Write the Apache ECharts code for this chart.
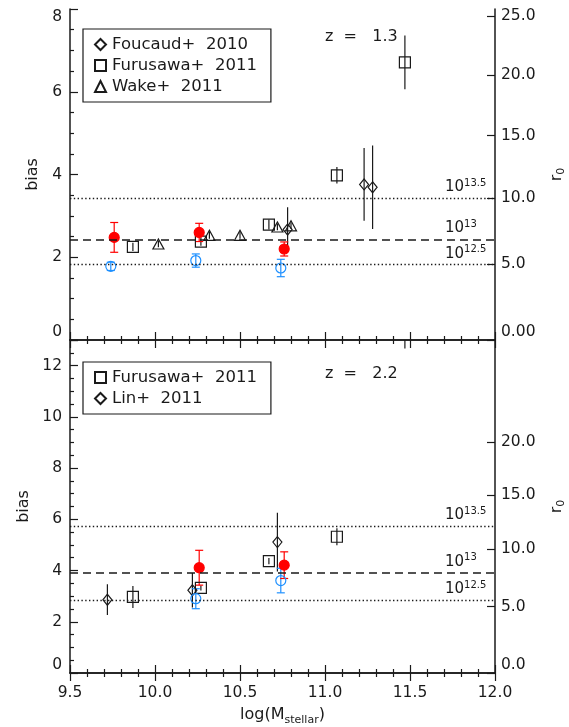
<!DOCTYPE html>
<html><head><meta charset="utf-8">
<script src="https://cdn.jsdelivr.net/npm/echarts@6/dist/echarts.min.js"></script>
<style>html,body{margin:0;padding:0;background:#fff}#c{width:569px;height:727px}</style>
</head><body><div id="c"></div>
<script>
// ---------------- data ----------------
const xMin = 9.5, xMax = 12.0;
const topR0Ticks = [0, 5, 10, 15, 20, 25];
const topR0Labels = ['0.00', '5.0', '10.0', '15.0', '20.0', '25.0'];
const botR0Ticks = [0, 5, 10, 15, 20];
const botR0Labels = ['0.0', '5.0', '10.0', '15.0', '20.0'];
const panelTitles = ['z  =   1.3', 'z  =   2.2'];

// bias-r0 relation b = C * r0^0.9 for each panel
const topR0Coef = 0.432;
const botR0Coef = 0.608;

// reference halo-mass lines (bias) and their exponents
const topHaloBias = [3.43, 2.43, 1.82];
const botHaloBias = [5.74, 3.91, 2.84];
const haloExp = ['13.5', '13', '12.5'];

// z = 1.3 panel
const topRedX = [9.76, 10.26, 10.76];
const topRedBias = [2.48, 2.60, 2.20];
const topRedErr = [0.36, 0.22, 0.17];
const topBlueX = [9.74, 10.24, 10.74];
const topBlueBias = [1.78, 1.92, 1.74];
const topBlueErr = [0.10, 0.16, 0.21];
const topFuruX = [9.87, 10.27, 10.67, 11.07, 11.47];
const topFuruBias = [2.25, 2.38, 2.79, 3.98, 6.71];
const topFuruErr = [0.10, 0.10, 0.12, 0.20, 0.65];
const topWakeX = [10.02, 10.32, 10.50, 10.72, 10.80];
const topWakeBias = [2.32, 2.53, 2.53, 2.73, 2.76];
const topWakeErr = [0.08, 0.08, 0.08, 0.08, 0.08];
const topFoucX = [10.78, 11.23, 11.28];
const topFoucBias = [2.67, 3.76, 3.69];
const topFoucErr = [0.54, 0.88, 1.01];

// z = 2.2 panel
const botRedX = [10.26, 10.76];
const botRedBias = [4.11, 4.21];
const botRedErr = [0.68, 0.52];
const botBlueX = [10.24, 10.74];
const botBlueBias = [2.90, 3.61];
const botBlueErr = [0.39, 0.48];
const botFuruX = [9.87, 10.27, 10.67, 11.07, 11.47];
const botFuruBias = [2.97, 3.32, 4.37, 5.32, 15.0];
const botFuruErr = [0.43, 0.10, 0.12, 0.33, 2.33];
const botLinX = [9.72, 10.22, 10.72];
const botLinBias = [2.86, 3.23, 5.11];
const botLinErr = [0.60, 0.67, 1.15];

const nameFou = 'Foucaud+ 2010', nameFur = 'Furusawa+ 2011', nameWake = 'Wake+ 2011', nameLin = 'Lin+ 2011';

// ---------------- helpers ----------------
const FONT = 'DejaVu Sans';
const INK = '#1a1a1a';
const RED = '#ff0000', BLUE = '#1e90ff';

function r0ToBias(r0, c) { return c * Math.pow(r0, 0.9); }

function errSeries(xs, ys, es, color, cap, g) {
  return {
    type: 'custom', xAxisIndex: g * 2, yAxisIndex: g * 2, clip: true, silent: true, z: 2,
    data: xs.map((x, i) => [x, ys[i] - es[i], ys[i] + es[i]]),
    renderItem(params, api) {
      const lo = api.coord([api.value(0), api.value(1)]);
      const hi = api.coord([api.value(0), api.value(2)]);
      const st = { stroke: color, lineWidth: 1.2 };
      const ch = [{ type: 'line', shape: { x1: lo[0], y1: lo[1], x2: hi[0], y2: hi[1] }, style: st }];
      if (cap) {
        ch.push({ type: 'line', shape: { x1: lo[0] - 4, y1: lo[1], x2: lo[0] + 4, y2: lo[1] }, style: st });
        ch.push({ type: 'line', shape: { x1: hi[0] - 4, y1: hi[1], x2: hi[0] + 4, y2: hi[1] }, style: st });
      }
      return { type: 'group', children: ch };
    }
  };
}
function markSeries(name, xs, ys, symbol, size, fill, stroke, g) {
  return {
    type: 'scatter', name, xAxisIndex: g * 2, yAxisIndex: g * 2, clip: true, z: 3,
    symbol, symbolSize: size,
    data: xs.map((x, i) => [x, ys[i]]),
    itemStyle: { color: fill, borderColor: stroke, borderWidth: 1.2, opacity: 1 },
    emphasis: { disabled: true }, silent: true
  };
}
function refLines(vals, g) {
  const styles = ['dotted', 'dashed', 'dotted'];
  return {
    type: 'scatter', data: [], xAxisIndex: g * 2, yAxisIndex: g * 2, silent: true, z: 1,
    markLine: {
      silent: true, symbol: ['none', 'none'], animation: false,
      data: vals.map((v, i) => ({
        yAxis: v,
        lineStyle: styles[i] === 'dashed'
          ? { type: [8, 5], width: 1.6, color: INK }
          : { type: [1.4, 2.4], width: 1.4, color: INK },
        label: {
          show: true, position: 'insideEndTop', distance: [50, 2], align: 'left',
          formatter: '{b|10}{s|' + haloExp[i] + '}',
          rich: {
            b: { fontFamily: FONT, fontSize: 15, color: INK, lineHeight: 18 },
            s: { fontFamily: FONT, fontSize: 10, color: INK, lineHeight: 18, verticalAlign: 'top' }
          }
        }
      }))
    }
  };
}

const OPEN = 'rgba(0,0,0,0)';
const tickLbl = { fontFamily: FONT, fontSize: 15.5, color: INK };
const axLine = { show: true, lineStyle: { color: INK, width: 1.5 } };

function xAxes(g, showLabels) {
  const base = {
    type: 'value', gridIndex: g, min: xMin, max: xMax, interval: 0.5,
    axisLine: axLine, splitLine: { show: false },
    axisTick: { inside: true, length: 8, lineStyle: { color: INK, width: 1.2 } },
    minorTick: { show: true, splitNumber: 5, length: 4, lineStyle: { color: INK, width: 1.2 } }
  };
  return [
    Object.assign({}, base, {
      position: 'bottom',
      axisLabel: Object.assign({ show: showLabels, margin: 12, formatter: v => v.toFixed(1) }, tickLbl),
      name: showLabels ? '{a|log(M}{s|stellar}{a|)}' : '', nameLocation: 'middle', nameGap: 31,
      nameTextStyle: { rich: {
        a: { fontFamily: FONT, fontSize: 16, color: INK, lineHeight: 22 },
        s: { fontFamily: FONT, fontSize: 11, color: INK, lineHeight: 22, verticalAlign: 'bottom' } } }
    }),
    Object.assign({}, base, { position: 'top', axisLabel: { show: false } })
  ];
}
function yAxes(g, max, r0Ticks, r0Labels, coef) {
  const custom = r0Ticks.map(r => r0ToBias(r, coef));
  return [
    {
      type: 'value', gridIndex: g, position: 'left', min: 0, max, interval: 2,
      axisLine: axLine, splitLine: { show: false },
      axisTick: { inside: true, length: 8, lineStyle: { color: INK, width: 1.2 } },
      minorTick: { show: true, splitNumber: 4, length: 4, lineStyle: { color: INK, width: 1.2 } },
      axisLabel: Object.assign({ margin: 8, showMaxLabel: max % 2 === 0,
        verticalAlignMinLabel: 'bottom', verticalAlignMaxLabel: 'top' }, tickLbl),
      name: 'bias', nameLocation: 'middle', nameGap: 29, nameRotate: 90,
      nameTextStyle: { fontFamily: FONT, fontSize: 16, color: INK }
    },
    {
      type: 'value', gridIndex: g, position: 'right', min: 0, max,
      axisLine: axLine, splitLine: { show: false },
      axisTick: { inside: true, length: 8, customValues: custom, lineStyle: { color: INK, width: 1.2 } },
      axisLabel: Object.assign({
        margin: 6, customValues: custom, verticalAlignMinLabel: 'bottom',
        formatter: v => { const i = custom.findIndex(b => Math.abs(b - v) < 1e-6); return i >= 0 ? r0Labels[i] : ''; }
      }, tickLbl),
      name: '{a|r}{s|0}', nameLocation: 'middle', nameGap: 52, nameRotate: 90,
      nameTextStyle: { rich: {
        a: { fontFamily: FONT, fontSize: 16, color: INK, lineHeight: 20 },
        s: { fontFamily: FONT, fontSize: 11, color: INK, lineHeight: 20, verticalAlign: 'bottom' } } }
    }
  ];
}
function legend(names, top) {
  return {
    orient: 'vertical', left: 83, top, data: names, selectedMode: false,
    borderColor: INK, borderWidth: 1.2, padding: [7, 14, 7, 11], itemGap: 4,
    itemWidth: 11, itemHeight: 11,
    formatter: n => n.replace(' ', '  '),
    textStyle: { fontFamily: FONT, fontSize: 16.5, color: INK, padding: [0, 0, 0, 1] }
  };
}

const option = {
  animation: false,
  backgroundColor: '#fff',
  grid: [
    { left: 70, top: 9, width: 425, height: 331, outerBoundsMode: 'none', containLabel: false },
    { left: 70, top: 340, width: 425, height: 333, outerBoundsMode: 'none', containLabel: false }
  ],
  xAxis: [...xAxes(0, false), ...xAxes(1, true)],
  yAxis: [...yAxes(0, 8, topR0Ticks, topR0Labels, topR0Coef), ...yAxes(1, 13, botR0Ticks, botR0Labels, botR0Coef)],
  legend: [legend([nameFou, nameFur, nameWake], 29), legend([nameFur, nameLin], 362)],
  graphic: [
    { type: 'text', left: 325, top: 29, silent: true, style: { text: panelTitles[0], font: '16px "DejaVu Sans"', fill: INK } },
    { type: 'text', left: 325, top: 366, silent: true, style: { text: panelTitles[1], font: '16px "DejaVu Sans"', fill: INK } }
  ],
  series: [
    refLines(topHaloBias, 0),
    errSeries(topFuruX, topFuruBias, topFuruErr, INK, false, 0),
    errSeries(topWakeX, topWakeBias, topWakeErr, INK, false, 0),
    errSeries(topFoucX, topFoucBias, topFoucErr, INK, false, 0),
    errSeries(topBlueX, topBlueBias, topBlueErr, BLUE, true, 0),
    errSeries(topRedX, topRedBias, topRedErr, RED, true, 0),
    markSeries(nameFou, topFoucX, topFoucBias, 'diamond', [9, 11], OPEN, INK, 0),
    markSeries(nameFur, topFuruX, topFuruBias, 'rect', 11, OPEN, INK, 0),
    markSeries(nameWake, topWakeX, topWakeBias, 'triangle', [11, 10], OPEN, INK, 0),
    markSeries('this work (blue)', topBlueX, topBlueBias, 'circle', 10, OPEN, BLUE, 0),
    markSeries('this work (red)', topRedX, topRedBias, 'circle', 10, RED, RED, 0),

    refLines(botHaloBias, 1),
    errSeries(botFuruX, botFuruBias, botFuruErr, INK, false, 1),
    errSeries(botLinX, botLinBias, botLinErr, INK, false, 1),
    errSeries(botBlueX, botBlueBias, botBlueErr, BLUE, true, 1),
    errSeries(botRedX, botRedBias, botRedErr, RED, true, 1),
    markSeries(nameFur, botFuruX, botFuruBias, 'rect', 11, OPEN, INK, 1),
    markSeries(nameLin, botLinX, botLinBias, 'diamond', [9, 11], OPEN, INK, 1),
    markSeries('this work (blue) ', botBlueX, botBlueBias, 'circle', 10, OPEN, BLUE, 1),
    markSeries('this work (red) ', botRedX, botRedBias, 'circle', 10, RED, RED, 1)
  ]
};
const chart = echarts.init(document.getElementById('c'), null, { renderer: 'canvas' });
chart.setOption(option);
</script></body></html>
